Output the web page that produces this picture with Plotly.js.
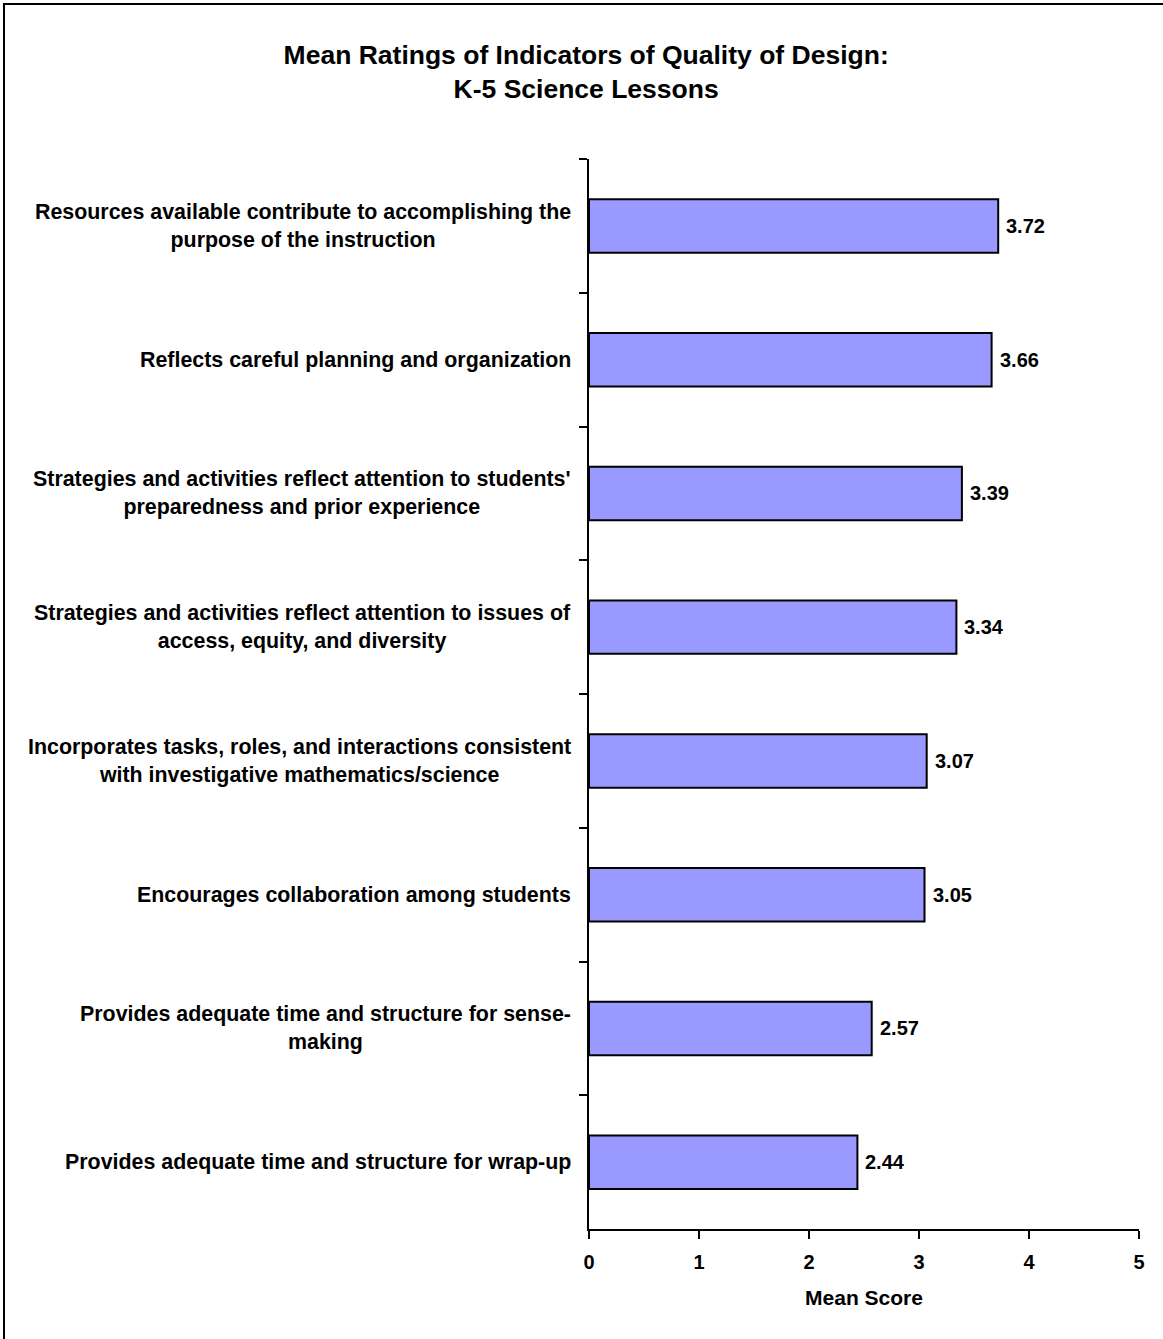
<!DOCTYPE html>
<html>
<head>
<meta charset="utf-8">
<script src="https://cdn.plot.ly/plotly-3.0.1.min.js"></script>
<style>
  html, body { margin: 0; padding: 0; background: #fff; }
  #wrap { position: relative; width: 1163px; height: 1339px; }
  #chart { position: absolute; left: 0; top: 0; width: 1163px; height: 1339px; }
  #bl { position: absolute; left: 3px; top: 3px; width: 2px; height: 1336px; background: #000; z-index: 5; }
  #bt { position: absolute; left: 3px; top: 3px; width: 1160px; height: 2px; background: #000; z-index: 5; }
</style>
</head>
<body>
<div id="wrap">
  <div id="chart"></div>
  <div id="bl"></div>
  <div id="bt"></div>
</div>
<script>
const categories = [
  "Resources available contribute to accomplishing the<br>purpose of the instruction",
  "Reflects careful planning and organization",
  "Strategies and activities reflect attention to students'<br>preparedness and prior experience",
  "Strategies and activities reflect attention to issues of<br>access, equity, and diversity",
  "Incorporates tasks, roles, and interactions consistent<br>with investigative mathematics/science",
  "Encourages collaboration among students",
  "Provides adequate time and structure for sense-<br>making",
  "Provides adequate time and structure for wrap-up"
];
const catKeys = ["c1","c2","c3","c4","c5","c6","c7","c8"];
const meanScores = [3.72, 3.66, 3.39, 3.34, 3.07, 3.05, 2.57, 2.44];
const xTickVals = [0, 1, 2, 3, 4, 5];

const FONT = "Liberation Sans, Arial, sans-serif";

const trace = {
  type: "bar",
  orientation: "h",
  x: meanScores,
  y: catKeys,
  marker: { color: "#9999FF", line: { color: "#000000", width: 2 } },
  hoverinfo: "none"
};

const annotations = [];
categories.forEach((c, i) => {
  annotations.push({
    xref: "x", yref: "y", x: 0, y: catKeys[i],
    xanchor: "right", yanchor: "middle", xshift: -16,
    text: c, align: "center", showarrow: false,
    font: { family: FONT, size: 21.4, color: "#000", weight: 700 }
  });
  annotations.push({
    xref: "x", yref: "y", x: meanScores[i], y: catKeys[i],
    xanchor: "left", yanchor: "middle", xshift: 6,
    text: meanScores[i].toFixed(2), showarrow: false,
    font: { family: FONT, size: 20, color: "#000", weight: 700 }
  });
});

const layout = {
  width: 1163, height: 1339,
  margin: { l: 589, r: 24, t: 159, b: 110, pad: 0 },
  paper_bgcolor: "#fff", plot_bgcolor: "#fff",
  showlegend: false,
  bargap: 0.6,
  title: {
    text: "Mean Ratings of Indicators of Quality of Design:<br>K-5 Science Lessons",
    font: { family: FONT, size: 26.5, color: "#000", weight: 700 },
    x: 0.504, xref: "container", xanchor: "center",
    y: 1 - 64 / 1339, yref: "container", yanchor: "top"
  },
  xaxis: {
    range: [0, 5],
    tickvals: xTickVals,
    ticktext: xTickVals.map(String),
    showgrid: false, zeroline: false,
    showline: true, linecolor: "#000", linewidth: 2,
    ticks: "outside", ticklen: 8, tickwidth: 2, tickcolor: "#000",
    tickfont: { family: FONT, size: 20, color: "#000", weight: 700 },
    ticklabelstandoff: 6,
    title: { text: "Mean Score", standoff: 18,
      font: { family: FONT, size: 21, color: "#000", weight: 700 } },
    fixedrange: true
  },
  yaxis: {
    type: "category",
    categoryorder: "array", categoryarray: catKeys,
    range: [7.5, -0.5],
    showticklabels: false,
    showgrid: false, zeroline: false,
    showline: true, linecolor: "#000", linewidth: 2,
    ticks: "outside", tickson: "boundaries", ticklen: 8, tickwidth: 2, tickcolor: "#000",
    fixedrange: true
  },
  annotations: annotations
};

Plotly.newPlot("chart", [trace], layout, { displayModeBar: false, staticPlot: true });
</script>
</body>
</html>
